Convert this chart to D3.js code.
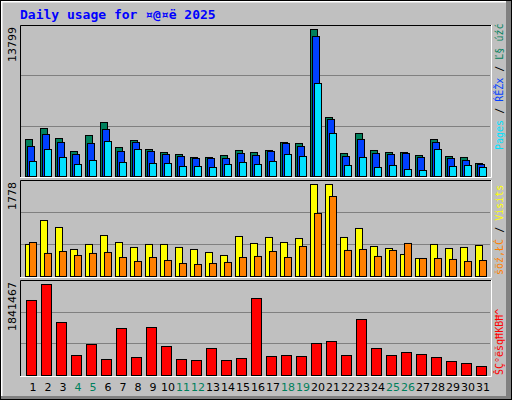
<!DOCTYPE html>
<html><head><meta charset="utf-8">
<script src="https://cdn.jsdelivr.net/npm/d3@7"></script>
<style>body{margin:0;background:#fff}svg{display:block}</style>
</head><body><svg id="chart"></svg>
<script>
const W = 512, H = 400

const days = d3.range(1, 32)
const weekend = [4, 5, 11, 12, 18, 19, 25, 26]
const hits = [3473,4506,3567,2347,3849,5069,2722,3379,2534,2253,2065,1784,1784,1971,2441,2253,2441,3192,3098,13799,5538,2159,4036,2441,2253,2253,1971,3473,1877,1784,1220]
const files = [2816,3943,3192,2065,3098,4412,2347,3192,2347,2065,1877,1690,1690,1690,2159,1971,2347,3098,2816,13142,5351,1877,3473,2159,2065,2159,1784,3192,1690,1502,1126]
const pages = [1408,2534,1784,1126,1502,3285,1314,2534,1220,1220,939,939,845,1126,1314,1126,1408,2065,1877,8730,4036,1033,1784,845,1033,657,563,2534,939,1033,845]
const visits = [619,1082,947,522,619,792,657,561,619,619,561,522,464,406,773,638,754,657,734,1778,1778,754,928,580,541,425,348,619,541,561,599]
const sites = [657,445,483,406,445,464,367,290,367,309,251,232,251,271,367,387,483,367,580,1218,1546,503,522,387,503,638,348,348,329,290,309]
const kbytes = [1517700,1841467,1072500,404700,627300,323800,951100,364200,971300,586800,323800,303500,546400,303500,344000,1558200,384500,404700,384500,647600,688000,404700,1133200,546400,404700,465400,425000,364200,283300,242800,182100]

const svg = d3.select('#chart').attr('width', W).attr('height', H)
    .style('font-family', 'DejaVu Sans Mono, monospace')

// background with raised border
svg.append('rect').attr('width', W).attr('height', H).attr('fill', '#c0c0c0')
svg.append('path').attr('d', `M1.5 ${H-4} V1.5 H${W-5}`).attr('stroke', '#fff').attr('stroke-width', 2).attr('fill', 'none')
svg.append('rect').attr('x', W-6).attr('y', 0).attr('width', 6).attr('height', H).attr('fill', '#808080')
svg.append('rect').attr('x', 0).attr('y', H-4).attr('width', W).attr('height', 4).attr('fill', '#808080')
svg.append('rect').attr('x', 0.5).attr('y', 0.5).attr('width', W-1).attr('height', H-1).attr('fill', 'none').attr('stroke', '#000')

svg.append('text').attr('x', 20).attr('y', 19).attr('fill', '#0000ff')
    .attr('font-size', 13).attr('font-weight', 'bold').text('Daily usage for ¤@¤ë 2025')

const x = d3.scaleBand().domain(days).range([23, 488])

function panel(top, bottom, plotTop, max, label) {
    const y = d3.scaleLinear().domain([0, max]).range([bottom, plotTop])
    const g = svg.append('g')
    const h = bottom - top
    ;[1, 2].forEach(k => {
        g.append('line').attr('x1', 21).attr('x2', 490)
            .attr('y1', top + Math.round(h * k / 3) + 0.5).attr('y2', top + Math.round(h * k / 3) + 0.5)
            .attr('stroke', '#808080')
    })
    g.append('path').attr('d', `M20.5 ${bottom+1} V${top+0.5} H491`).attr('stroke', '#000').attr('fill', 'none')
    g.append('path').attr('d', `M20 ${bottom+1.5} H491.5 V${top}`).attr('stroke', '#fff').attr('fill', 'none')
    svg.append('text').attr('transform', `translate(16,${top+2}) rotate(-90)`)
        .attr('text-anchor', 'end').attr('font-family', 'DejaVu Sans, sans-serif')
        .attr('font-size', 11).attr('fill', '#000').text(label)
    return y
}

function bars(values, y, dx, w, color) {
    svg.append('g').selectAll('rect').data(values).enter().append('rect')
        .attr('x', (d, i) => x(days[i]) + dx + 0.5)
        .attr('y', d => y(d) + 0.5)
        .attr('width', w)
        .attr('height', d => y(0) - y(d))
        .attr('fill', color).attr('stroke', '#000')
}

const y1 = panel(25, 176, 29, 13799, '13799')
bars(hits, y1, 2, 7, '#00805c')
bars(files, y1, 4, 7, '#0040ff')
bars(pages, y1, 6, 7, '#00e0ff')

const y2 = panel(180, 276, 184, 1778, '1778')
bars(visits, y2, 2, 7, '#ffff00')
bars(sites, y2, 6, 7, '#ff8000')

const y3 = panel(280, 375, 284, 1841467, '1841467')
bars(kbytes, y3, 3, 10, '#ff0000')

svg.append('g').selectAll('text').data(days).enter().append('text')
    .attr('x', d => x(d) + 10).attr('y', 391)
    .attr('text-anchor', 'middle').attr('font-family', 'DejaVu Sans, sans-serif').attr('font-size', 11)
    .attr('fill', d => weekend.includes(d) ? '#00805c' : '#000')
    .text(d => d)

// right-side legends, rotated
function legend(yBottom, parts) {
    const t = svg.append('text').attr('transform', `translate(503,${yBottom}) rotate(-90)`)
        .attr('font-size', 10)
    parts.forEach(([s, c]) => t.append('tspan').attr('fill', c).text(s))
}
legend(150, [['Pages', '#00e0ff'], [' / ', '#000'], ['ŔĚŽx', '#0040ff'], [' / ', '#000'], ['Ľ§ úźć', '#00805c']])
legend(275, [['šöź,ŁĆ', '#ff8000'], [' / ', '#000'], ['Visits', '#ffff00']])
legend(375, [['ŠÇ°ëšqĦKBĦ^', '#ff0000']])
</script></body></html>
